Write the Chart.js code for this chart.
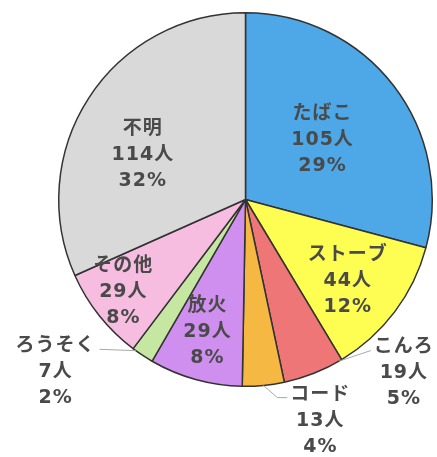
<!DOCTYPE html>
<html>
<head>
<meta charset="utf-8">
<script src="https://cdn.jsdelivr.net/npm/chart.js@4/dist/chart.umd.min.js"></script>
<style>
  html, body { margin: 0; padding: 0; background: #fff; }
  #wrap { width: 437px; height: 457px; position: relative; }
</style>
</head>
<body>
<div id="wrap"><canvas id="pie"></canvas></div>
<script>
const causes = ['たばこ', 'ストーブ', 'こんろ', 'コード', '放火', 'ろうそく', 'その他', '不明'];
const people = [105, 44, 19, 13, 29, 7, 29, 114];
const shares = ['29%', '12%', '5%', '4%', '8%', '2%', '8%', '32%'];
const colors = ['#4ea8e8', '#fdfd52', '#ee7676', '#f5b843', '#cf8fee', '#c6e7a2', '#f6bde0', '#d9d9d9'];

// label placement: [angle offset from slice middle (deg), radius factor]
const labelPos = [[0, 0.52], [1.5, 0.70], [-20.8, 1.26], [-13.2, 1.25], [0.5, 0.74], [14.2, 1.375], [1.4, 0.82], [-9.4, 0.6]];
// leader lines for outside labels: t = where on the slice edge, side = which side of text
const leaders = {2: {t: 0.05, side: 'left'}, 3: {t: 0.5, side: 'left', elbow: true}, 5: {t: 0.85, side: 'right'}};

const FONT = 'bold 19px "DejaVu Sans", "Noto Sans CJK JP", sans-serif';
const LINE_H = 26;

const labelPlugin = {
  id: 'sliceLabels',
  afterDatasetsDraw(chart) {
    const ctx = chart.ctx;
    const arcs = chart.getDatasetMeta(0).data;
    ctx.save();
    ctx.font = FONT;
    ctx.letterSpacing = '1px';
    ctx.fillStyle = '#4a4a4a';
    ctx.textAlign = 'center';
    ctx.textBaseline = 'middle';
    arcs.forEach((arc, i) => {
      const p = arc.getProps(['x', 'y', 'startAngle', 'endAngle', 'outerRadius'], true);
      const mid = (p.startAngle + p.endAngle) / 2 + labelPos[i][0] * Math.PI / 180;
      const r = p.outerRadius * labelPos[i][1];
      const cx = p.x + Math.cos(mid) * r;
      const cy = p.y + Math.sin(mid) * r;
      const lines = [causes[i], people[i] + '人', shares[i]];
      lines.forEach((t, k) => ctx.fillText(t, cx, cy + (k - 1) * LINE_H));

      const ld = leaders[i];
      if (ld) {
        const a = p.startAngle + ld.t * (p.endAngle - p.startAngle);
        const ax = p.x + Math.cos(a) * p.outerRadius;
        const ay = p.y + Math.sin(a) * p.outerRadius;
        const w = ctx.measureText(causes[i]).width;
        const rowY = cy - LINE_H + 3;
        const bx = ld.side === 'left' ? cx - w / 2 - 3 : cx + w / 2 + 4;
        ctx.beginPath();
        ctx.strokeStyle = '#a8a8a8';
        ctx.lineWidth = 1;
        ctx.moveTo(ax, ay);
        if (ld.elbow) ctx.lineTo(bx - 10, rowY);
        ctx.lineTo(bx, rowY);
        ctx.stroke();
      }
    });
    ctx.restore();
  }
};

new Chart(document.getElementById('pie'), {
  type: 'pie',
  data: {
    labels: causes,
    datasets: [{
      data: people,
      backgroundColor: colors,
      borderColor: '#333333',
      borderWidth: 1.5
    }]
  },
  options: {
    responsive: true,
    maintainAspectRatio: false,
    animation: false,
    layout: { padding: { left: 58, right: 4, top: 12, bottom: 70 } },
    plugins: {
      legend: { display: false },
      tooltip: { enabled: false }
    }
  },
  plugins: [labelPlugin]
});
</script>
</body>
</html>
